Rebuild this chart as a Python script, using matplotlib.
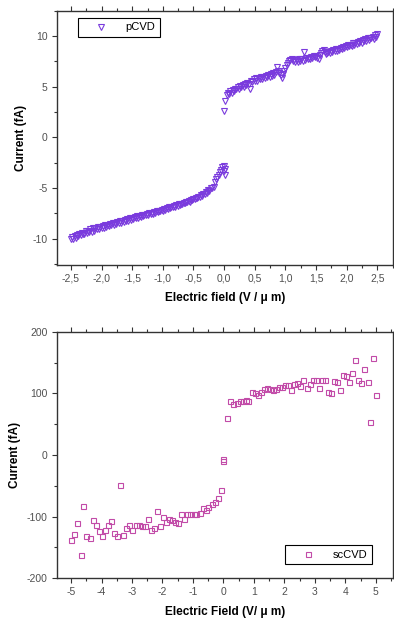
import numpy as np
import matplotlib
matplotlib.use("Agg")
import matplotlib.pyplot as plt
from matplotlib.ticker import MultipleLocator, FuncFormatter

plt.rcParams['font.family'] = ['Liberation Sans', 'DejaVu Sans']
plt.rcParams['axes.unicode_minus'] = False

# ---------------- pCVD data (top panel) ----------------
p_neg_x = np.round(np.arange(-2.50, -0.199, 0.02), 2)
p_neg_y = [-10.05, -9.8, -10.0, -9.7, -9.9, -9.6,
           -9.75, -9.5, -9.65, -9.4, -9.55,
           -9.5, -9.25, -9.45, -9.2, -9.35,
           -9.1, -9.3, -9.0, -9.2, -8.95,
           -9.1, -8.85, -9.05, -8.85, -9.0,
           -8.8, -8.95, -8.7, -8.85, -8.65,
           -8.8, -8.55, -8.7, -8.5, -8.65,
           -8.45, -8.6, -8.35, -8.5, -8.3,
           -8.45, -8.25, -8.35, -8.15, -8.3,
           -8.1, -8.25, -8.0, -8.15, -7.95,
           -8.1, -7.9, -7.95, -7.8, -7.95,
           -7.75, -7.9, -7.7, -7.8, -7.65,
           -7.7, -7.55, -7.7, -7.5, -7.6,
           -7.45, -7.55, -7.35, -7.5, -7.3,
           -7.4, -7.25, -7.3, -7.15, -7.25,
           -7.1, -7.15, -7.0, -7.1, -6.9,
           -7.0, -6.85, -6.9, -6.75, -6.9,
           -6.7, -6.8, -6.6, -6.7, -6.55,
           -6.6, -6.45, -6.5, -6.35, -6.4,
           -6.25, -6.35, -6.2, -6.2, -6.05,
           -6.1, -5.95, -6.0, -5.85, -5.85,
           -5.7, -5.75, -5.55, -5.6, -5.4,
           -5.45, -5.25, -5.3, -5.05, -5.05]

p_mid_x = [-0.17, -0.15, -0.13, -0.11, -0.09, -0.07, -0.05, -0.03, -0.01, 0.0, 0.01, 0.02]
p_mid_y = [-4.9, -4.4, -4.1, -3.9, -3.7, -3.45, -3.2, -2.95, -2.85, -3.3, -3.75, -3.1]

p_pos_x = np.round(np.arange(0.0, 2.501, 0.02), 2)
p_pos_y = [2.55, 3.6, 4.15, 4.4, 4.25,
           4.6, 4.4, 4.7, 4.6, 4.8,
           4.75, 5.0, 4.8, 5.1, 4.95,
           5.2, 4.95, 5.3, 5.2, 5.35,
           5.3, 4.8, 5.55, 5.45, 5.7,
           5.55, 5.8, 5.55, 5.85, 5.7,
           5.95, 5.75, 5.95, 5.85, 6.0,
           5.9, 6.15, 5.95, 6.2, 6.05,
           6.3, 6.15, 6.45, 6.95, 6.5,
           6.3, 6.1, 5.8, 6.2, 6.5,
           6.8, 7.1, 7.3, 7.5, 7.6,
           7.7, 7.5, 7.65, 7.45, 7.6,
           7.45, 7.7, 7.5, 7.7, 7.55,
           8.4, 7.65, 7.8, 7.7, 7.85,
           7.75, 7.95, 7.8, 8.05, 7.9,
           8.05, 7.85, 7.75, 8.15, 8.3,
           8.55, 8.65, 8.4, 8.2, 8.3,
           8.4, 8.3, 8.5, 8.4, 8.6,
           8.5, 8.7, 8.55, 8.75, 8.65,
           8.85, 8.75, 8.95, 8.8, 9.0,
           8.95, 9.1, 9.0, 9.15, 9.05,
           9.3, 9.15, 9.35, 9.2, 9.4,
           9.35, 9.5, 9.35, 9.6, 9.5,
           9.65, 9.5, 9.75, 9.6, 9.8,
           9.75, 9.9, 9.7, 10.05, 9.9,
           10.15]

# ---------------- scCVD data (bottom panel) ----------------
s_neg_x = [-5.0, -4.89, -4.79, -4.69, -4.6, -4.5, -4.39, -4.28, -4.19, -4.09,
           -3.99, -3.88, -3.79, -3.68, -3.6, -3.49, -3.39, -3.28, -3.19, -3.09,
           -2.99, -2.88, -2.78, -2.68, -2.58, -2.49, -2.39, -2.29, -2.19, -2.08,
           -1.98, -1.89, -1.79, -1.69, -1.59, -1.48, -1.38, -1.28, -1.18, -1.09,
           -0.98, -0.89, -0.78, -0.68, -0.58, -0.49, -0.38, -0.29, -0.19, -0.09,
           0.0, 0.0]
s_neg_y = [-138, -128, -111, -163, -83, -132, -135, -106, -114, -124,
           -131, -121, -113, -107, -127, -132, -49, -130, -118, -114,
           -121, -114, -114, -115, -116, -104, -122, -119, -91, -115,
           -100, -109, -104, -105, -109, -110, -96, -104, -96, -95,
           -95, -95, -94, -86, -89, -84, -80, -76, -69, -57,
           -10, -6]
s_pos_x = [0.13, 0.23, 0.33, 0.43, 0.53, 0.63, 0.73, 0.82, 0.93, 1.03,
           1.12, 1.22, 1.33, 1.42, 1.52, 1.62, 1.72, 1.83, 1.93, 2.03,
           2.12, 2.23, 2.32, 2.43, 2.53, 2.62, 2.73, 2.83, 2.93, 3.03,
           3.13, 3.22, 3.33, 3.42, 3.52, 3.63, 3.73, 3.83, 3.92, 4.03,
           4.13, 4.22, 4.33, 4.43, 4.52, 4.62, 4.73, 4.82, 4.92, 5.01]
s_pos_y = [60, 88, 82, 85, 87, 88, 89, 87, 103, 101,
           97, 102, 107, 108, 107, 105, 107, 110, 111, 113,
           113, 105, 115, 117, 112, 121, 109, 115, 122, 122,
           109, 121, 121, 102, 100, 120, 118, 105, 130, 128,
           119, 133, 154, 121, 117, 140, 119, 54, 158, 97]

p_color = '#7A3BDD'
s_color = '#C24BA8'
tick_color = '#505050'

fig = plt.figure(figsize=(3.94, 6.22), dpi=100)
ax1 = fig.add_axes([0.144, 0.574, 0.853, 0.409])
ax2 = fig.add_axes([0.144, 0.0703, 0.853, 0.3964])

px = list(p_neg_x) + p_mid_x + list(p_pos_x)
py = p_neg_y + p_mid_y + p_pos_y
ax1.plot(px, py, linestyle='none', marker='v', markersize=3.9,
         markerfacecolor='none', markeredgecolor=p_color, markeredgewidth=0.8,
         label='pCVD')

sx = s_neg_x + s_pos_x
sy = s_neg_y + s_pos_y
ax2.plot(sx, sy, linestyle='none', marker='s', markersize=3.6,
         markerfacecolor='none', markeredgecolor=s_color, markeredgewidth=0.8,
         label='scCVD')

ax1.set_xlim(-2.73, 2.75)
ax1.set_ylim(-12.6, 12.5)
ax1.xaxis.set_major_locator(MultipleLocator(0.5))
ax1.xaxis.set_minor_locator(MultipleLocator(0.25))
ax1.yaxis.set_major_locator(MultipleLocator(5))
ax1.yaxis.set_minor_locator(MultipleLocator(2.5))
ax1.xaxis.set_major_formatter(FuncFormatter(lambda v, p: f"{v:.1f}".replace('.', ',').replace('-0,0', '0,0')))
ax1.yaxis.set_major_formatter(FuncFormatter(lambda v, p: f"{v:.0f}"))

ax2.set_xlim(-5.47, 5.56)
ax2.set_ylim(-200, 200)
ax2.xaxis.set_major_locator(MultipleLocator(1))
ax2.xaxis.set_minor_locator(MultipleLocator(0.5))
ax2.yaxis.set_major_locator(MultipleLocator(100))
ax2.yaxis.set_minor_locator(MultipleLocator(50))
ax2.xaxis.set_major_formatter(FuncFormatter(lambda v, p: f"{v:.0f}"))
ax2.yaxis.set_major_formatter(FuncFormatter(lambda v, p: f"{v:.0f}"))

for ax in (ax1, ax2):
    for sp in ax.spines.values():
        sp.set_color('#333333')
        sp.set_linewidth(1.0)
    ax.tick_params(which='both', direction='out', top=True, right=True,
                   labeltop=False, labelright=False, color='#333333',
                   labelcolor=tick_color, labelsize=7.5)
    ax.tick_params(which='major', length=3.5, width=0.8, pad=3)
    ax.tick_params(which='minor', length=2, width=0.8)
    ax.set_ylabel('Current (fA)', fontsize=8.5, fontweight='bold', labelpad=4)

ax1.set_xlabel('Electric field (V / \u03bc m)', fontsize=8.5, fontweight='bold', labelpad=6)
ax2.set_xlabel('Electric Field (V/ \u03bc m)', fontsize=8.5, fontweight='bold', labelpad=6)

leg_kw = dict(fontsize=8, frameon=True, fancybox=False, framealpha=1,
              edgecolor='black', borderpad=0.4, handlelength=3.4,
              handletextpad=0.5, borderaxespad=0, markerscale=1.0)
l1 = ax1.legend(loc='upper left', bbox_to_anchor=(0.063, 0.971), **leg_kw)
l2 = ax2.legend(loc='lower left', bbox_to_anchor=(0.679, 0.058), **leg_kw)
for l in (l1, l2):
    l.get_frame().set_linewidth(0.8)

fig.savefig('out.png', dpi=100)
